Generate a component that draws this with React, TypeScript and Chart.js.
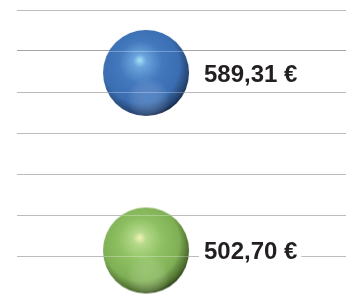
import React, { useEffect, useRef } from "react";
import { Chart, registerables } from "chart.js";

Chart.register(...registerables);

const categories = ["A", "B"];
const values = [589.31, 502.7];
const labels = ["589,31 €", "502,70 €"];
const xPositions = [1, 1];
const yTicks = [500, 520, 540, 560, 580, 600, 620];

type SphereColors = {
  highlight: string;
  light: string;
  base: string;
  mid: string;
  dark: string;
  edge: string;
  reflect: string;
};

const blueColors: SphereColors = {
  highlight: "#a6e2f8",
  light: "#69a3dc",
  base: "#4479be",
  mid: "#3b6eb2",
  dark: "#23426e",
  edge: "#0f1d33",
  reflect: "rgba(130,170,230,0.35)",
};

const greenColors: SphereColors = {
  highlight: "#f4f4b8",
  light: "#b4d98a",
  base: "#8fc163",
  mid: "#80b056",
  dark: "#4b6a2c",
  edge: "#1f2c12",
  reflect: "rgba(175,215,130,0.4)",
};

function makeSphere(r: number, c: SphereColors): HTMLCanvasElement {
  const size = Math.ceil(r * 2) + 2;
  const cv = document.createElement("canvas");
  cv.width = size;
  cv.height = size;
  const ctx = cv.getContext("2d")!;
  const cx = size / 2;
  const cy = size / 2;
  ctx.save();
  ctx.beginPath();
  ctx.arc(cx, cy, r, 0, Math.PI * 2);
  ctx.clip();
  const g = ctx.createRadialGradient(cx - 0.15 * r, cy - 0.3 * r, 0, cx - 0.1 * r, cy - 0.15 * r, r * 1.2);
  g.addColorStop(0, c.highlight);
  g.addColorStop(0.13, c.light);
  g.addColorStop(0.42, c.base);
  g.addColorStop(0.74, c.mid);
  g.addColorStop(0.93, c.dark);
  g.addColorStop(1, c.edge);
  ctx.fillStyle = g;
  ctx.fillRect(0, 0, size, size);
  const g2 = ctx.createRadialGradient(cx + 0.05 * r, cy + 0.62 * r, 0, cx + 0.05 * r, cy + 0.62 * r, 0.5 * r);
  g2.addColorStop(0, c.reflect);
  g2.addColorStop(1, "rgba(255,255,255,0)");
  ctx.fillStyle = g2;
  ctx.fillRect(0, 0, size, size);
  ctx.restore();
  return cv;
}

const labelPlugin = {
  id: "sphereLabels",
  afterDatasetsDraw(chart: any) {
    const { ctx, chartArea } = chart;
    const yScale = chart.scales.y;
    ctx.save();
    ctx.strokeStyle = "rgba(255,255,255,0.28)";
    ctx.lineWidth = 1;
    yTicks.forEach((t) => {
      const py = Math.round(yScale.getPixelForValue(t)) + 0.5;
      ctx.beginPath();
      ctx.moveTo(chartArea.left, py);
      ctx.lineTo(chartArea.right, py);
      ctx.stroke();
    });
    ctx.font = "bold 24px 'Liberation Sans', Arial, sans-serif";
    ctx.textBaseline = "middle";
    chart.data.datasets.forEach((ds: any, i: number) => {
      const meta = chart.getDatasetMeta(i);
      const pt = meta.data[0];
      if (!pt) return;
      const text = labels[i];
      const tx = pt.x + 58;
      const ty = pt.y + 2;
      const w = ctx.measureText(text).width;
      ctx.fillStyle = "#ffffff";
      ctx.fillRect(tx - 5, ty - 12, w + 9, 24);
      ctx.fillStyle = "#231f20";
      ctx.fillText(text, tx, ty);
    });
    ctx.restore();
  },
};

export default function App() {
  const ref = useRef<HTMLCanvasElement>(null);
  useEffect(() => {
    if (!ref.current) return;
    const r = 43;
    const styles = [makeSphere(r, blueColors), makeSphere(r, greenColors)];
    const chart = new Chart(ref.current, {
      type: "scatter",
      data: {
        datasets: categories.map((cat, i) => ({
          label: cat,
          data: [{ x: xPositions[i], y: values[i] }],
          pointStyle: styles[i] as any,
          pointRadius: r,
          pointHoverRadius: r,
          clip: false as any,
        })),
      },
      options: {
        animation: false,
        responsive: false,
        events: [],
        layout: { autoPadding: false, padding: { top: 10, bottom: 38, left: 17, right: 0 } },
        plugins: { legend: { display: false }, tooltip: { enabled: false } },
        scales: {
          x: { type: "linear", display: false, min: 0, max: 2.55 },
          y: {
            type: "linear",
            min: 500,
            max: 620,
            afterBuildTicks: (scale: any) => {
              scale.ticks = yTicks.map((v) => ({ value: v }));
            },
            ticks: { display: false },
            border: { display: false },
            grid: { color: "#a3a3a3", lineWidth: 1, drawTicks: false },
          },
        },
      },
      plugins: [labelPlugin],
    });
    return () => chart.destroy();
  }, []);
  return (
    <div style={{ position: "fixed", left: 0, top: 0, width: 346, height: 294, background: "#fff" }}>
      <canvas ref={ref} width={346} height={294} style={{ display: "block" }} />
    </div>
  );
}
